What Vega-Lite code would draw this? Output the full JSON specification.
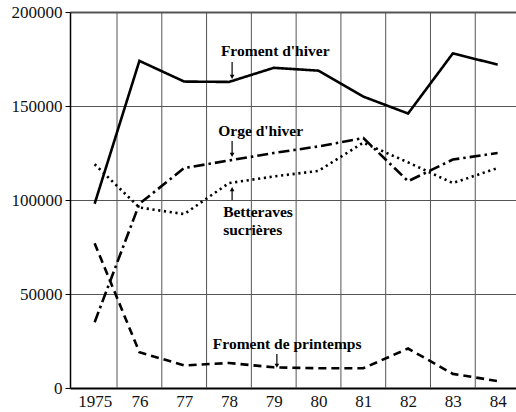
{
  "$schema": "https://vega.github.io/schema/vega-lite/v6.json",
  "autosize": "none",
  "padding": {"left": 70, "top": 12, "right": 0, "bottom": 24},
  "width": 446,
  "height": 376,
  "background": "white",
  "config": {
    "view": {"stroke": null},
    "font": "Liberation Serif"
  },
  "datasets": {
    "series": [
      {"year": 1975, "crop": "Froment d'hiver", "value": 98000},
      {"year": 1976, "crop": "Froment d'hiver", "value": 174000},
      {"year": 1977, "crop": "Froment d'hiver", "value": 163000},
      {"year": 1978, "crop": "Froment d'hiver", "value": 162800},
      {"year": 1979, "crop": "Froment d'hiver", "value": 170300},
      {"year": 1980, "crop": "Froment d'hiver", "value": 168800},
      {"year": 1981, "crop": "Froment d'hiver", "value": 155000},
      {"year": 1982, "crop": "Froment d'hiver", "value": 146000},
      {"year": 1983, "crop": "Froment d'hiver", "value": 178000},
      {"year": 1984, "crop": "Froment d'hiver", "value": 172000},
      {"year": 1975, "crop": "Orge d'hiver", "value": 35000},
      {"year": 1976, "crop": "Orge d'hiver", "value": 98000},
      {"year": 1977, "crop": "Orge d'hiver", "value": 117000},
      {"year": 1978, "crop": "Orge d'hiver", "value": 121000},
      {"year": 1979, "crop": "Orge d'hiver", "value": 125000},
      {"year": 1980, "crop": "Orge d'hiver", "value": 128500},
      {"year": 1981, "crop": "Orge d'hiver", "value": 133000},
      {"year": 1982, "crop": "Orge d'hiver", "value": 110000},
      {"year": 1983, "crop": "Orge d'hiver", "value": 121500},
      {"year": 1984, "crop": "Orge d'hiver", "value": 125000},
      {"year": 1975, "crop": "Betteraves sucrières", "value": 119000},
      {"year": 1976, "crop": "Betteraves sucrières", "value": 96000},
      {"year": 1977, "crop": "Betteraves sucrières", "value": 92500},
      {"year": 1978, "crop": "Betteraves sucrières", "value": 109000},
      {"year": 1979, "crop": "Betteraves sucrières", "value": 112500},
      {"year": 1980, "crop": "Betteraves sucrières", "value": 115500},
      {"year": 1981, "crop": "Betteraves sucrières", "value": 130500},
      {"year": 1982, "crop": "Betteraves sucrières", "value": 120000},
      {"year": 1983, "crop": "Betteraves sucrières", "value": 109000},
      {"year": 1984, "crop": "Betteraves sucrières", "value": 117000},
      {"year": 1975, "crop": "Froment de printemps", "value": 77000},
      {"year": 1976, "crop": "Froment de printemps", "value": 19000},
      {"year": 1977, "crop": "Froment de printemps", "value": 12000},
      {"year": 1978, "crop": "Froment de printemps", "value": 13300},
      {"year": 1979, "crop": "Froment de printemps", "value": 11000},
      {"year": 1980, "crop": "Froment de printemps", "value": 10500},
      {"year": 1981, "crop": "Froment de printemps", "value": 10500},
      {"year": 1982, "crop": "Froment de printemps", "value": 21000},
      {"year": 1983, "crop": "Froment de printemps", "value": 7500},
      {"year": 1984, "crop": "Froment de printemps", "value": 3700}
    ],
    "vgrid": [
      {"year": 1975.5}, {"year": 1976.5}, {"year": 1977.5}, {"year": 1978.5},
      {"year": 1979.5}, {"year": 1980.5}, {"year": 1981.5}, {"year": 1982.5}, {"year": 1983.5}
    ],
    "labels": [
      {"year": 1977.82, "value": 179250, "text": "Froment d'hiver"},
      {"year": 1977.76, "value": 136700, "text": "Orge d'hiver"},
      {"year": 1977.87, "value": 93600, "text": "Betteraves"},
      {"year": 1977.87, "value": 84000, "text": "sucrières"},
      {"year": 1977.64, "value": 23400, "text": "Froment de printemps"}
    ],
    "arrows": [
      {"year": 1978.07, "from": 173400, "to": 165500, "dir": "down"},
      {"year": 1978.07, "from": 131400, "to": 124000, "dir": "down"},
      {"year": 1978.07, "from": 100000, "to": 105800, "dir": "up"},
      {"year": 1979.07, "from": 18100, "to": 11800, "dir": "down"}
    ]
  },
  "encoding": {
    "x": {
      "type": "quantitative",
      "scale": {"domain": [1974.45, 1984.41], "nice": false, "zero": false}
    },
    "y": {
      "type": "quantitative",
      "scale": {"domain": [0, 200000], "nice": false}
    }
  },
  "layer": [
    {
      "data": {"name": "vgrid"},
      "mark": {"type": "rule", "color": "#555", "strokeWidth": 1},
      "encoding": {
        "x": {
          "field": "year",
          "type": "quantitative",
          "axis": {
            "values": [1975, 1976, 1977, 1978, 1979, 1980, 1981, 1982, 1983, 1984],
            "format": "d",
            "labelExpr": "datum.value == 1975 ? datum.label : slice(datum.label, 2)",
            "title": null,
            "grid": false,
            "ticks": false,
            "tickSize": 0,
            "labelPadding": 5,
            "labelFont": "Liberation Serif",
            "labelFontSize": 17,
            "labelColor": "#111",
            "domainColor": "#000",
            "domainWidth": 2
          }
        },
        "y": {"datum": 0},
        "y2": {"datum": 200000}
      }
    },
    {
      "data": {"name": "series"},
      "mark": {"type": "line", "color": "#000", "strokeWidth": 2.6},
      "encoding": {
        "x": {"field": "year", "type": "quantitative"},
        "y": {
          "field": "value",
          "type": "quantitative",
          "axis": {
            "values": [0, 50000, 100000, 150000, 200000],
            "format": "d",
            "title": null,
            "grid": true,
            "gridColor": "#555",
            "gridWidth": {"condition": {"test": "datum.value == 200000", "value": 2}, "value": 1},
            "gridOpacity": 1,
            "tickColor": "#000",
            "tickSize": 5,
            "labelPadding": 3,
            "labelFont": "Liberation Serif",
            "labelFontSize": 17,
            "labelColor": "#111",
            "domainColor": "#000",
            "domainWidth": 1.5
          }
        },
        "strokeDash": {
          "field": "crop",
          "type": "nominal",
          "scale": {
            "domain": ["Froment d'hiver", "Orge d'hiver", "Betteraves sucrières", "Froment de printemps"],
            "range": [[1, 0], [11, 4, 2.5, 4], [2.2, 3.6], [8, 5]]
          },
          "legend": null
        }
      }
    },
    {
      "data": {"name": "labels"},
      "mark": {
        "type": "text",
        "align": "left",
        "baseline": "middle",
        "font": "Liberation Serif",
        "fontWeight": "bold",
        "fontSize": 15.5,
        "color": "#000"
      },
      "encoding": {
        "x": {"field": "year", "type": "quantitative"},
        "y": {"field": "value", "type": "quantitative"},
        "text": {"field": "text"}
      }
    },
    {
      "data": {"name": "arrows"},
      "mark": {"type": "rule", "color": "#000", "strokeWidth": 1.2},
      "encoding": {
        "x": {"field": "year", "type": "quantitative"},
        "y": {"field": "from", "type": "quantitative"},
        "y2": {"field": "to"}
      }
    },
    {
      "data": {"name": "arrows"},
      "mark": {"type": "point", "filled": true, "color": "#000", "size": 22, "opacity": 1},
      "encoding": {
        "x": {"field": "year", "type": "quantitative"},
        "y": {"field": "to", "type": "quantitative"},
        "shape": {
          "field": "dir",
          "type": "nominal",
          "scale": {"domain": ["down", "up"], "range": ["triangle-down", "triangle-up"]},
          "legend": null
        }
      }
    }
  ]
}
